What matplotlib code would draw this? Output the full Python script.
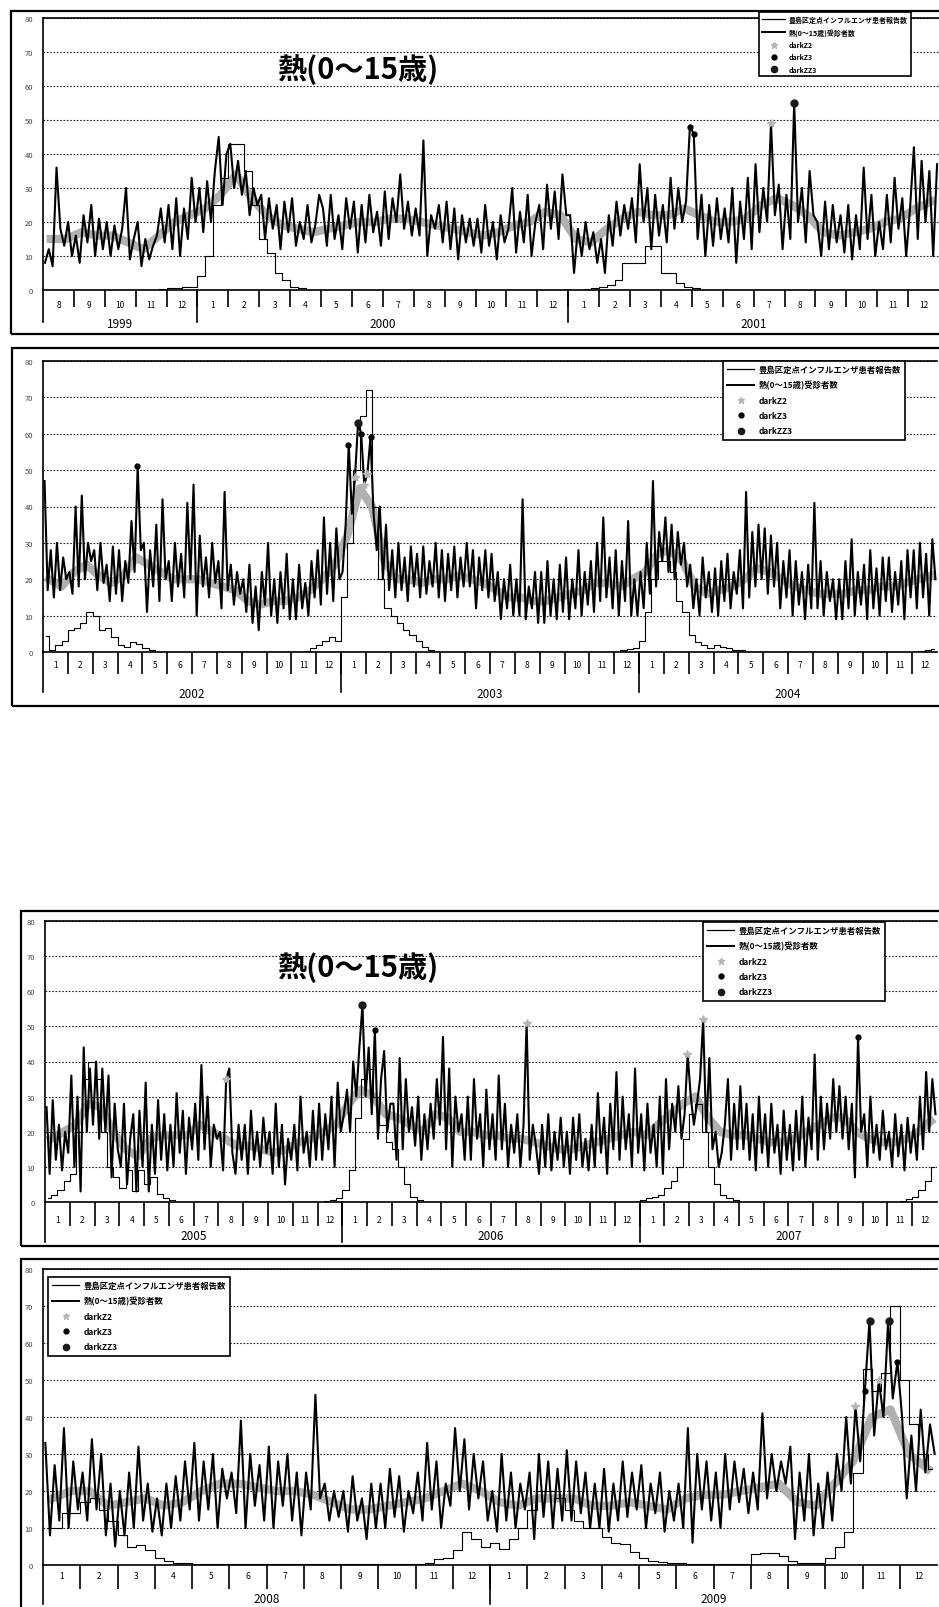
# -*- coding:utf-8 -*-
import numpy as np
import matplotlib
matplotlib.use('Agg')
import matplotlib.pyplot as plt
from matplotlib.lines import Line2D
from matplotlib.patches import Rectangle

plt.rcParams['font.family'] = ['Noto Sans CJK JP', 'DejaVu Sans']

# ---- texts ----
TITLE = '熱(0～15歳)'
FLU_LABEL = '豊島区定点インフルエンザ患者報告数'
FEVER_LABEL = '熱(0～15歳)受診者数'
ALERT_LABELS = ['darkZ2', 'darkZ3', 'darkZZ3']
Y_TICKS = [0, 10, 20, 30, 40, 50, 60, 70, 80]

# ---- panel 1 : 1999/8 - 2001/12 (8 readings / month) ----
p1_start = (1999, 8)
p1_fever = [
    [8, 12, 7, 36, 18, 13, 20, 10], [16, 8, 22, 14, 25, 10, 21, 12],
    [20, 10, 19, 12, 18, 30, 9, 15], [20, 7, 15, 9, 13, 16, 24, 14],
    [25, 12, 27, 10, 24, 15, 33, 20], [30, 17, 32, 20, 35, 45, 25, 40],
    [43, 30, 38, 28, 35, 22, 30, 25], [28, 15, 27, 18, 25, 12, 26, 17],
    [27, 13, 20, 15, 25, 14, 19, 28], [24, 13, 28, 15, 22, 12, 27, 18],
    [26, 11, 25, 14, 28, 17, 23, 13], [29, 15, 27, 20, 34, 18, 26, 16],
    [24, 16, 44, 10, 22, 18, 25, 14], [26, 12, 24, 9, 22, 14, 21, 13],
    [21, 11, 25, 13, 20, 9, 22, 14], [18, 30, 11, 23, 14, 28, 10, 20],
    [25, 12, 31, 18, 29, 15, 34, 22], [22, 5, 18, 10, 20, 12, 17, 8],
    [15, 5, 22, 13, 26, 16, 25, 18], [27, 14, 37, 20, 30, 12, 28, 16],
    [25, 14, 33, 18, 30, 20, 26, 48], [46, 15, 28, 10, 25, 13, 27, 15],
    [24, 14, 30, 8, 26, 15, 33, 12], [37, 17, 30, 20, 49, 22, 31, 12],
    [28, 15, 55, 20, 30, 14, 35, 22], [20, 10, 26, 12, 25, 14, 22, 11],
    [25, 9, 22, 12, 36, 15, 28, 10], [20, 12, 28, 14, 33, 18, 27, 10],
    [24, 42, 15, 38, 20, 35, 10, 37],
]
p1_gray = [
    [15, 15], [17, 16], [16, 14], [12, 16], [20, 22], [24, 28], [34, 27],
    [22, 19], [18, 17], [18, 19], [20, 20], [21, 21], [20, 19], [18, 17],
    [16, 17], [19, 20], [23, 22], [15, 14], [18, 21], [23, 22], [22, 24],
    [22, 20], [20, 21], [25, 27], [25, 22], [17, 16], [17, 18], [20, 21],
    [24, 26],
]
p1_flu = [
    [0, 0, 0, 0], [0, 0, 0, 0], [0, 0, 0, 0], [0, 0, 0, 0.3],
    [0.5, 0.5, 0.8, 1], [4, 10, 25, 33], [43, 43, 35, 25], [15, 11, 5, 3],
    [1, 0.5, 0, 0], [0, 0, 0, 0], [0, 0, 0, 0], [0, 0, 0, 0],
    [0, 0, 0, 0], [0, 0, 0, 0], [0, 0, 0, 0], [0, 0, 0, 0],
    [0, 0, 0, 0], [0, 0, 0.3, 0.5], [1, 1.5, 3, 8], [8, 8, 13, 13],
    [5, 5, 2, 1], [0.5, 0, 0, 0], [0, 0, 0, 0], [0, 0, 0, 0],
    [0, 0, 0, 0], [0, 0, 0, 0], [0, 0, 0, 0], [0, 0, 0, 0],
    [0, 0, 0, 0],
]
p1_alert2 = [('2001-07-18', 49)]
p1_alert3 = [('2001-04-29', 48), ('2001-05-03', 46)]
p1_alert33 = [('2001-08-10', 55)]

# ---- panel 2 : 2002/1 - 2004/12 ----
p2_start = (2002, 1)
p2_fever = [
    [47, 17, 28, 15, 30, 17, 26, 20], [22, 16, 40, 18, 43, 20, 30, 25],
    [28, 17, 30, 19, 24, 14, 29, 16], [28, 14, 25, 19, 36, 22, 51, 28],
    [30, 11, 28, 18, 35, 14, 42, 20], [25, 14, 30, 18, 27, 15, 41, 20],
    [46, 10, 32, 18, 26, 15, 30, 19], [25, 12, 44, 17, 24, 13, 22, 16],
    [20, 11, 24, 8, 18, 6, 22, 13], [30, 10, 20, 8, 22, 12, 27, 9],
    [20, 9, 24, 12, 19, 10, 25, 15], [28, 13, 37, 16, 30, 14, 34, 20],
    [22, 35, 57, 38, 48, 63, 60, 46], [49, 59, 38, 28, 40, 20, 35, 17],
    [28, 15, 30, 17, 26, 14, 29, 18], [27, 15, 29, 16, 25, 18, 30, 15],
    [28, 14, 27, 17, 29, 15, 26, 18], [30, 18, 28, 12, 26, 17, 28, 15],
    [27, 14, 22, 9, 20, 12, 24, 10], [20, 10, 42, 9, 18, 12, 22, 8],
    [22, 8, 25, 10, 20, 9, 24, 11], [26, 9, 20, 12, 28, 10, 22, 13],
    [25, 11, 30, 14, 37, 15, 26, 12], [28, 10, 25, 14, 36, 10, 20, 10],
    [22, 12, 30, 16, 47, 18, 33, 25], [37, 22, 35, 20, 33, 24, 30, 18],
    [24, 12, 20, 10, 26, 15, 22, 11], [23, 10, 25, 14, 27, 12, 22, 16],
    [28, 12, 44, 15, 33, 18, 35, 20], [34, 16, 32, 18, 30, 12, 25, 15],
    [28, 10, 25, 13, 22, 9, 24, 12], [41, 12, 25, 10, 22, 14, 20, 9],
    [20, 9, 25, 12, 31, 10, 22, 13], [24, 9, 28, 12, 23, 10, 26, 14],
    [26, 11, 22, 13, 25, 9, 28, 15], [28, 12, 30, 15, 27, 10, 31, 20],
]
p2_gray = [
    [20, 18], [22, 24], [21, 19], [21, 26], [24, 22], [20, 20], [20, 19],
    [18, 17], [14, 13], [14, 14], [15, 17], [20, 24], [32, 45], [40, 25],
    [20, 20], [19, 20], [20, 21], [20, 19], [17, 15], [15, 14], [14, 15],
    [16, 17], [19, 19], [18, 20], [22, 27], [28, 25], [18, 16], [17, 18],
    [20, 23], [22, 20], [18, 17], [16, 16], [16, 17], [17, 18], [18, 19],
    [20, 21],
]
p2_flu = [
    [4.5, 0.5, 2, 3], [6, 6.5, 8, 11], [10, 6, 6.5, 4], [2, 1.5, 2.8, 2.3],
    [1, 0.5, 0, 0], [0, 0, 0, 0], [0, 0, 0, 0], [0, 0, 0, 0],
    [0, 0, 0, 0], [0, 0, 0, 0], [0, 0, 0.3, 1], [2, 3, 4, 3],
    [15, 30, 50, 65], [72, 40, 20, 12], [10, 8, 6, 4.6], [3, 1.4, 0.5, 0],
    [0, 0, 0, 0], [0, 0, 0, 0], [0, 0, 0, 0], [0, 0, 0, 0],
    [0, 0, 0, 0], [0, 0, 0, 0], [0, 0, 0, 0], [0, 0.5, 0.8, 1],
    [3, 11, 20, 25], [25, 22, 14, 11], [4.6, 2.8, 1.8, 1], [1.8, 1.5, 1, 0.5],
    [0.5, 0, 0, 0], [0, 0, 0, 0], [0, 0, 0, 0], [0, 0, 0, 0],
    [0, 0, 0, 0], [0, 0, 0, 0], [0, 0, 0, 0], [0, 0.3, 0.5, 0.8],
]
p2_alert2 = [('2003-01-18', 48), ('2003-01-29', 46), ('2003-02-03', 49)]
p2_alert3 = [('2002-04-25', 51), ('2003-01-10', 57), ('2003-01-25', 60),
             ('2003-02-07', 59)]
p2_alert33 = [('2003-01-22', 63)]

# ---- panel 3 : 2005/1 - 2007/12 ----
p3_start = (2005, 1)
p3_fever = [
    [27, 8, 29, 12, 22, 9, 20, 14], [36, 10, 30, 3, 44, 20, 38, 22],
    [40, 18, 38, 20, 36, 7, 28, 15], [10, 28, 5, 18, 25, 3, 26, 10],
    [34, 3, 22, 8, 29, 12, 25, 9], [22, 10, 31, 14, 26, 8, 24, 15],
    [28, 12, 39, 15, 30, 10, 22, 18], [20, 9, 35, 38, 14, 8, 22, 12],
    [22, 8, 26, 12, 20, 10, 24, 14], [20, 8, 28, 10, 22, 5, 18, 12],
    [22, 9, 30, 14, 20, 10, 26, 12], [28, 12, 25, 15, 30, 10, 34, 20],
    [25, 32, 20, 40, 30, 44, 56, 30], [44, 25, 49, 18, 35, 43, 20, 28],
    [28, 12, 41, 15, 35, 20, 27, 16], [30, 12, 25, 15, 28, 18, 35, 22],
    [47, 15, 38, 10, 30, 20, 25, 12], [30, 12, 35, 18, 25, 10, 32, 15],
    [25, 12, 36, 15, 28, 10, 22, 14], [25, 10, 22, 51, 12, 22, 16, 8],
    [22, 10, 25, 9, 20, 12, 24, 10], [20, 8, 24, 12, 25, 10, 18, 9],
    [22, 10, 31, 14, 24, 8, 28, 15], [37, 12, 30, 15, 25, 10, 38, 14],
    [25, 9, 28, 14, 22, 10, 30, 8], [35, 15, 28, 20, 33, 18, 25, 42],
    [30, 22, 28, 35, 52, 20, 41, 15], [20, 10, 14, 22, 35, 12, 28, 15],
    [33, 15, 28, 12, 25, 9, 30, 14], [25, 10, 28, 14, 22, 8, 26, 12],
    [22, 9, 26, 12, 30, 10, 24, 15], [42, 12, 30, 15, 28, 18, 35, 20],
    [33, 18, 30, 15, 28, 7, 47, 20], [25, 10, 30, 14, 22, 12, 26, 15],
    [20, 10, 25, 13, 22, 9, 24, 14], [22, 12, 30, 15, 37, 20, 35, 25],
]
p3_gray = [
    [18, 20], [22, 28], [27, 20], [15, 13], [18, 19], [19, 19], [22, 20],
    [18, 16], [16, 15], [14, 15], [17, 18], [20, 22], [28, 32], [30, 25],
    [24, 22], [20, 25], [24, 20], [20, 19], [19, 18], [18, 17], [16, 15],
    [15, 16], [17, 18], [19, 20], [19, 22], [25, 28], [30, 24], [20, 19],
    [19, 18], [17, 17], [18, 20], [22, 24], [24, 20], [18, 17], [17, 18],
    [20, 23],
]
p3_flu = [
    [1, 2, 3.5, 6], [8, 20, 35, 40], [35, 20, 10, 7], [4, 9, 3, 9],
    [5, 7, 2.4, 1], [0.5, 0, 0, 0], [0, 0, 0, 0], [0, 0, 0, 0],
    [0, 0, 0, 0], [0, 0, 0, 0], [0, 0, 0, 0], [0, 0.3, 0.5, 1],
    [3.3, 9, 24, 35], [38, 30, 22, 17], [15, 10, 5, 1.4], [0.7, 0, 0, 0],
    [0, 0, 0, 0], [0, 0, 0, 0], [0, 0, 0, 0], [0, 0, 0, 0],
    [0, 0, 0, 0], [0, 0, 0, 0], [0, 0, 0, 0], [0, 0, 0, 0],
    [0.5, 1, 1.4, 2], [4, 6, 10, 18], [25, 28, 20, 10], [5, 2, 1, 0.5],
    [0, 0, 0, 0], [0, 0, 0, 0], [0, 0, 0, 0], [0, 0, 0, 0],
    [0, 0, 0, 0], [0, 0, 0, 0], [0, 0, 0.3, 0.8], [1.4, 3.3, 6, 10],
]
p3_alert2 = [('2005-08-10', 35), ('2006-08-14', 51), ('2007-02-28', 42),
             ('2007-03-18', 52)]
p3_alert3 = [('2006-02-10', 49), ('2007-09-25', 47)]
p3_alert33 = [('2006-01-25', 56)]

# ---- panel 4 : 2008/1 - 2009/12 ----
p4_start = (2008, 1)
p4_fever = [
    [33, 8, 27, 12, 37, 10, 28, 15], [25, 12, 34, 15, 30, 8, 22, 5],
    [20, 8, 25, 10, 32, 12, 22, 9], [18, 8, 22, 10, 24, 12, 28, 15],
    [33, 12, 28, 15, 30, 10, 26, 18], [25, 14, 39, 10, 30, 16, 27, 12],
    [32, 10, 28, 16, 30, 12, 25, 8], [25, 15, 46, 18, 22, 12, 20, 13],
    [20, 9, 24, 12, 18, 7, 22, 10], [22, 10, 26, 13, 24, 9, 20, 14],
    [25, 12, 33, 15, 28, 10, 22, 16], [37, 20, 34, 15, 30, 18, 28, 12],
    [20, 9, 30, 12, 25, 10, 22, 15], [25, 7, 30, 13, 28, 10, 26, 12],
    [31, 12, 28, 14, 25, 10, 22, 10], [26, 9, 22, 12, 28, 13, 25, 15],
    [27, 10, 22, 14, 25, 9, 20, 12], [22, 10, 37, 6, 30, 15, 28, 12],
    [25, 10, 30, 15, 28, 17, 26, 14], [25, 15, 41, 18, 30, 20, 28, 22],
    [32, 7, 25, 12, 30, 8, 22, 10], [25, 12, 30, 20, 40, 22, 43, 28],
    [47, 66, 35, 50, 40, 66, 45, 55], [40, 18, 35, 20, 42, 25, 38, 30],
]
p4_gray = [
    [18, 20], [20, 16], [17, 18], [16, 17], [20, 22], [22, 21], [20, 20],
    [19, 17], [15, 15], [16, 17], [18, 20], [22, 20], [17, 16], [18, 18],
    [18, 16], [16, 17], [16, 15], [18, 19], [19, 20], [21, 22], [17, 16],
    [22, 28], [40, 42], [30, 26],
]
p4_flu = [
    [10, 10, 14, 14], [17, 18, 15, 12], [8, 5, 5.5, 4], [2, 1, 0.5, 0.5],
    [0.3, 0.2, 0.2, 0.2], [0.2, 0.2, 0.2, 0.2], [0.2, 0.2, 0.2, 0.2],
    [0.2, 0.2, 0.2, 0.2], [0.2, 0.2, 0.2, 0.2], [0.2, 0.2, 0.2, 0.3],
    [0.3, 0.5, 1.5, 2], [4, 9, 7, 5], [6, 4.3, 7, 10], [15, 20, 20, 18],
    [15, 12, 10, 10], [7.5, 6, 5.6, 3.4], [2, 1, 0.8, 0.6],
    [0.5, 0.4, 0.3, 0.2], [0.2, 0.2, 0.2, 0.3], [3, 3.3, 3.3, 2.5],
    [1, 0.5, 0.5, 0.5], [2, 5, 9, 25], [53, 47, 52, 70], [50, 38, 30, 26],
]
p4_alert2 = [('2009-10-25', 43), ('2009-11-14', 50)]
p4_alert3 = [('2009-11-03', 47), ('2009-11-29', 55)]
p4_alert33 = [('2009-11-07', 66), ('2009-11-22', 66)]

# ---------------------------------------------------------------
W, H = 939, 1608
fig = plt.figure(figsize=(W / 100, H / 100), dpi=100)
fig.patch.set_facecolor('white')


def px_rect(x0, y0, x1, y1):
    return [x0 / W, 1 - y1 / H, (x1 - x0) / W, (y1 - y0) / H]


def month_pos(date, start):
    y, m, d = (int(s) for s in date.split('-'))
    return (y - start[0]) * 12 + (m - start[1]) + (d - 1) / 30.0


def draw_panel(rect, frame, start, fever, gray, flu, alerts, leg_xy, leg_fs,
               tick_px, year_px, year_lab_px, month_lab_px, title_xy=None):
    fig.add_artist(Rectangle((frame[0] / W, 1 - frame[3] / H),
                             (frame[2] - frame[0]) / W, (frame[3] - frame[1]) / H,
                             transform=fig.transFigure, fill=False,
                             lw=1.6, ec='black'))
    ax = fig.add_axes(px_rect(*rect))
    ax.set_facecolor('none')
    ax_h = rect[3] - rect[1]
    n = len(fever)

    fev = np.ravel(fever)
    gr = np.ravel(gray)
    fl = np.ravel(flu)
    ax.plot((np.arange(len(gr)) + 0.5) / 2, gr, color='#b0b0b0', lw=6,
            solid_joinstyle='round', zorder=2)
    ax.plot((np.arange(len(fev)) + 0.5) / 8, fev, color='black', lw=1.5,
            zorder=3)
    ax.plot((np.arange(len(fl)) + 0.5) / 4, fl, color='black', lw=0.8,
            drawstyle='steps-mid', zorder=4)

    styles = [dict(marker='*', color='#b5b5b5', ms=6),
              dict(marker='o', color='black', ms=3.5),
              dict(marker='o', color='#1a1a1a', ms=5)]
    for pts, st in zip(alerts, styles):
        if pts:
            xs = [month_pos(d, start) for d, v in pts]
            ys = [v for d, v in pts]
            ax.plot(xs, ys, ls='none', zorder=5, **st)

    ax.set_xlim(0, n)
    ax.set_ylim(0, 80)
    ax.set_yticks(Y_TICKS)
    ax.tick_params(axis='y', length=0, pad=7, labelsize=5.5, labelcolor='#444444')
    ax.grid(axis='y', color='#222222', lw=0.8, ls=(0, (1.5, 1.5)))
    ax.set_axisbelow(True)
    for s in ['left', 'bottom', 'top']:
        ax.spines[s].set_linewidth(1.2)
    ax.spines['right'].set_visible(False)

    months = [(start[1] - 1 + i) % 12 + 1 for i in range(n)]
    ax.set_xticks(np.arange(1, n))
    ax.set_xticklabels([])
    ax.tick_params(axis='x', which='major', length=tick_px * 0.72, width=1.2,
                   direction='out')
    ax.set_xticks(np.arange(n) + 0.5, minor=True)
    ax.set_xticklabels([str(m) for m in months], minor=True)
    ax.tick_params(axis='x', which='minor', length=0, labelsize=6,
                   pad=(month_lab_px - 4) * 0.72)

    # year separators and year labels
    trans = ax.get_xaxis_transform()
    bounds = [0] + [i for i in range(1, n) if months[i] == 1] + [n]
    for b in bounds[:-1]:
        ax.plot([b, b], [0, -year_px / ax_h], transform=trans, color='black',
                lw=1.2, clip_on=False)
    for k in range(len(bounds) - 1):
        cx = (bounds[k] + bounds[k + 1]) / 2
        ax.text(cx, -year_lab_px / ax_h, str(start[0] + k), transform=trans,
                ha='center', va='center', fontsize=8.5)

    handles = [Line2D([], [], color='black', lw=0.9),
               Line2D([], [], color='black', lw=1.4),
               Line2D([], [], ls='none', marker='*', color='#b5b5b5', ms=5),
               Line2D([], [], ls='none', marker='o', color='black', ms=3.5),
               Line2D([], [], ls='none', marker='o', color='#1a1a1a', ms=4.5)]
    leg = ax.legend(handles, [FLU_LABEL, FEVER_LABEL] + ALERT_LABELS,
                    loc='upper left', bbox_to_anchor=(leg_xy[0] / W, 1 - leg_xy[1] / H),
                    bbox_transform=fig.transFigure, borderaxespad=0,
                    prop={'size': leg_fs, 'weight': 'bold'}, frameon=True,
                    fancybox=False, edgecolor='black', framealpha=1,
                    handlelength=3.2, labelspacing=0.75, borderpad=0.5,
                    handletextpad=0.6)
    leg.get_frame().set_linewidth(1.2)
    leg.set_zorder(10)

    if title_xy is not None:
        fig.text(title_xy[0] / W, 1 - title_xy[1] / H, TITLE, ha='center',
                 va='center', fontsize=21, fontweight='bold')
    return ax


draw_panel((43, 19, 939, 291), (11, 12, 960, 335), p1_start, p1_fever,
           p1_gray, p1_flu, [p1_alert2, p1_alert3, p1_alert33],
           (759, 13), 5, 17, 32, 34, 14, title_xy=(358, 70))
draw_panel((43, 362, 937, 653), (12, 349, 960, 707), p2_start, p2_fever,
           p2_gray, p2_flu, [p2_alert2, p2_alert3, p2_alert33],
           (723, 362), 6, 22, 40, 42, 12)
draw_panel((45, 922, 937, 1203), (21, 912, 960, 1247), p3_start, p3_fever,
           p3_gray, p3_flu, [p3_alert2, p3_alert3, p3_alert33],
           (703, 923), 6, 24, 40, 34, 17, title_xy=(358, 968))
draw_panel((43, 1270, 937, 1566), (21, 1260, 960, 1660), p4_start, p4_fever,
           p4_gray, p4_flu, [p4_alert2, p4_alert3, p4_alert33],
           (48, 1278), 6, 24, 39, 34, 10)

fig.savefig('out.png', dpi=100, facecolor='white')
